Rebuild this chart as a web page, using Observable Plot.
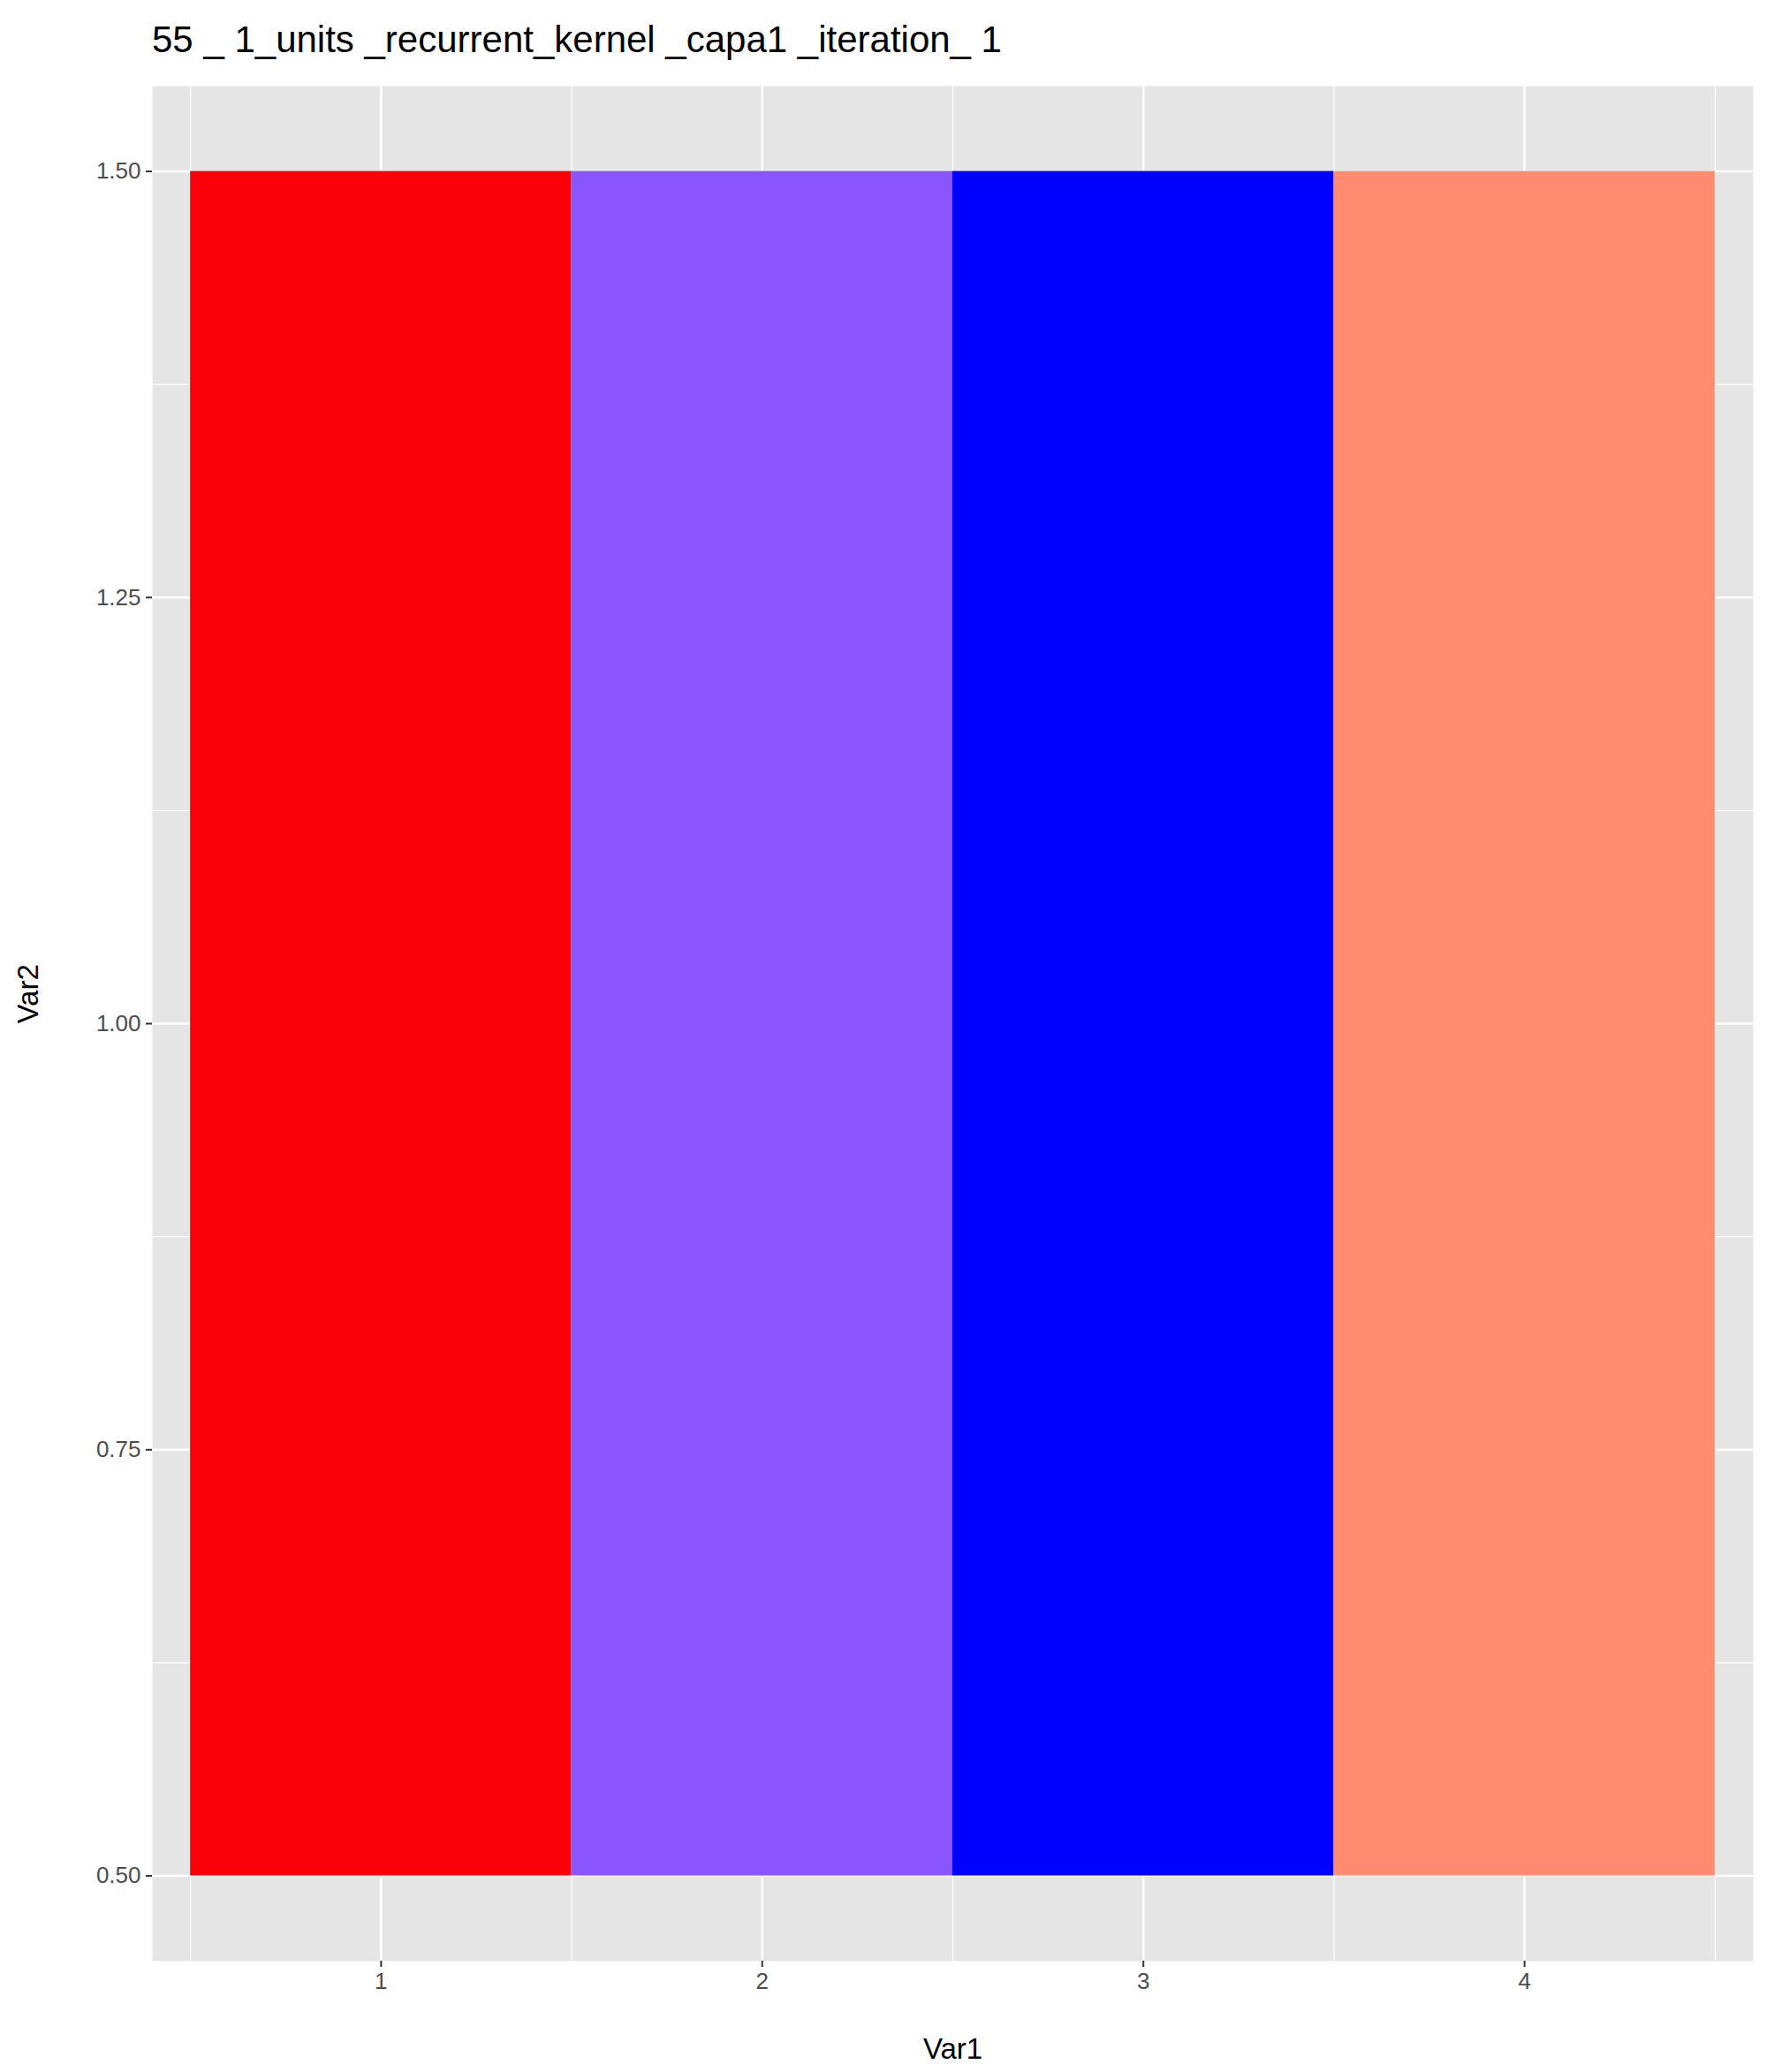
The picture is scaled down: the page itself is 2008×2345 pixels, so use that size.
<!DOCTYPE html>
<html><head><meta charset="utf-8">
<script src="https://cdn.jsdelivr.net/npm/d3@7"></script>
<script src="https://cdn.jsdelivr.net/npm/@observablehq/plot@0.6"></script>
<style>
body{margin:0;background:#fff;font-family:"Liberation Sans",Arial,sans-serif}
#title{height:70px;padding-left:172px;font-size:42px;line-height:90px;color:#000;white-space:pre}
</style></head><body>
<div id="title">55 _ 1_units _recurrent_kernel _capa1 _iteration_ 1</div>
<div id="chart"></div>
<script>
// datos
const var1 = [1, 2, 3, 4]
const var2 = [1, 1, 1, 1]
const colores = ['#FA0009', '#8A54FF', '#0000FF', '#FF8C70']
const xTicks = [1, 2, 3, 4]
const yTicks = [0.5, 0.75, 1.0, 1.25, 1.5]
const xMinor = [0.5, 1.5, 2.5, 3.5, 4.5]
const yMinor = [0.625, 0.875, 1.125, 1.375]

const tiles = var1.map((v, i) => ({ var1: v, var2: var2[i], color: colores[i] }))

const chart = Plot.plot({
  width: 2008,
  height: 2275,
  marginLeft: 172,
  marginRight: 24,
  marginTop: 27,
  marginBottom: 126,
  style: { fontFamily: 'Liberation Sans, Arial, sans-serif', background: '#fff' },
  x: { domain: [0.4, 4.6], label: null },
  y: { domain: [0.45, 1.55], label: null },
  marks: [
    Plot.frame({ fill: '#E5E5E5', stroke: null }),
    Plot.gridX(xMinor, { stroke: '#fff', strokeOpacity: 1, strokeWidth: 1.2 }),
    Plot.gridY(yMinor, { stroke: '#fff', strokeOpacity: 1, strokeWidth: 1.2 }),
    Plot.gridX(xTicks, { stroke: '#fff', strokeOpacity: 1, strokeWidth: 2.5 }),
    Plot.gridY(yTicks, { stroke: '#fff', strokeOpacity: 1, strokeWidth: 2.5 }),
    Plot.rect(tiles, {
      x1: d => d.var1 - 0.5, x2: d => d.var1 + 0.5,
      y1: d => d.var2 - 0.5, y2: d => d.var2 + 0.5,
      fill: d => d.color
    }),
    Plot.axisX(xTicks, { tickSize: 7, tickPadding: 6, fontSize: 26, color: '#4D4D4D', stroke: '#333', strokeWidth: 2, tickFormat: d3.format('d') }),
    Plot.axisY(yTicks, { tickSize: 7, tickPadding: 6, fontSize: 26, color: '#4D4D4D', stroke: '#333', strokeWidth: 2, tickFormat: d3.format('.2f') }),
    Plot.text(['Var1'], { frameAnchor: 'bottom', dy: 110, fontSize: 33, fill: '#000' }),
    Plot.text(['Var2'], { frameAnchor: 'left', dx: -140, rotate: -90, fontSize: 33, fill: '#000' })
  ]
})
d3.select('#chart').append(() => chart)
</script>
</body></html>
